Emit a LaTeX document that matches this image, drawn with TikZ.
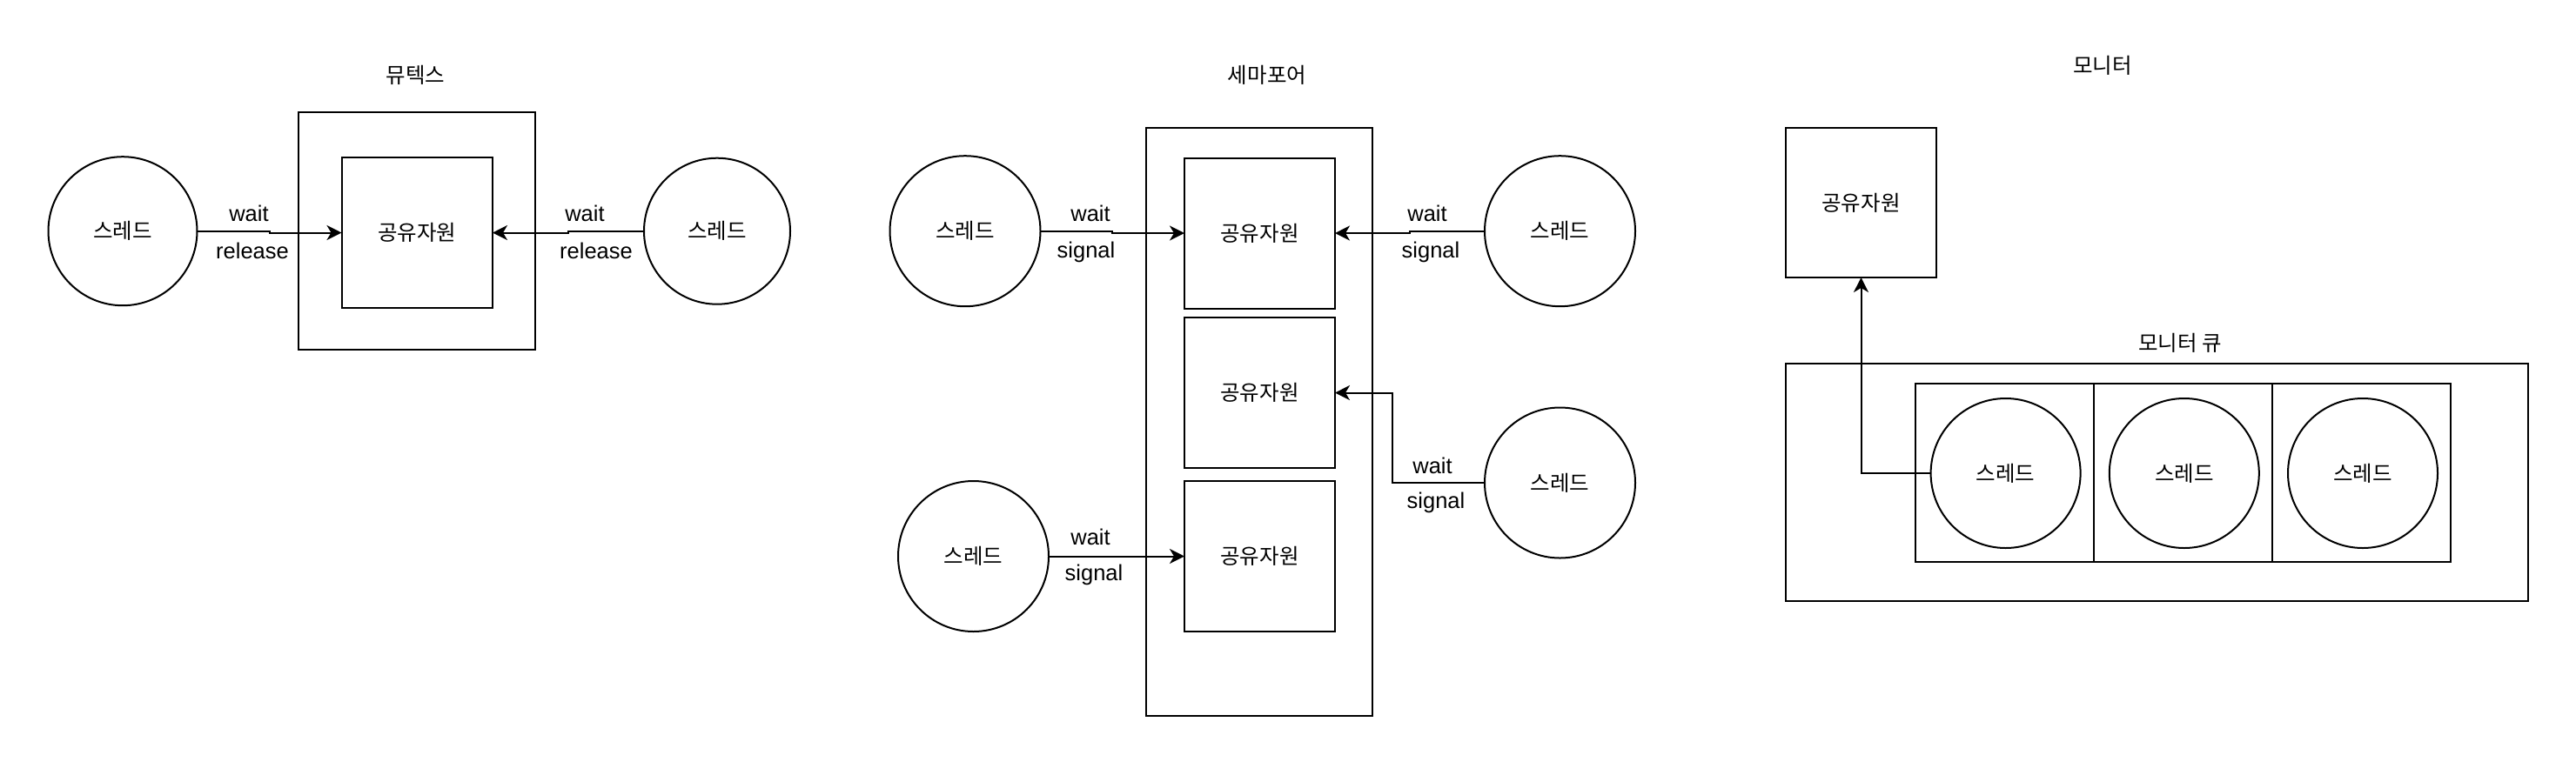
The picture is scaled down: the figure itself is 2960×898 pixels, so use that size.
\documentclass[tikz,border=0pt]{standalone}
\usepackage{fontspec}
\setmainfont{Liberation Sans}
\newfontfamily\kr{Noto Sans CJK KR}
\usetikzlibrary{arrows.meta,calc}
\begin{document}
\begin{tikzpicture}[x=1pt,y=-1pt,
  lw/.style={line width=2pt},
  rbox/.style args={#1x#2}{draw, lw, inner sep=0pt, outer sep=0pt, minimum width=#1pt, minimum height=#2pt, font=\kr\fontsize{24.5}{28}\selectfont},
  thr/.style={draw, lw, circle, inner sep=0pt, outer sep=0pt, minimum size=#1pt, font=\kr\fontsize{24.5}{28}\selectfont},
  thr/.default=172,
  ttl/.style={inner sep=0pt, font=\kr\fontsize{24.5}{28}\selectfont},
  lbl/.style={inner sep=0pt, anchor=base, font=\fontsize{25.5}{30}\selectfont},
  arr/.style={lw, -{Stealth[length=17pt, width=17pt, inset=5pt]}}
]
\useasboundingbox (0,0) rectangle (2960,898);

% ---------------- Mutex ----------------
\node[ttl] (tMutex) at (477.6,86.7) {뮤텍스};
\node[rbox=272x273] (mOuter) at (479,265.5) {};
\node[rbox=173.5x173] (mRes) at (479.25,267.5) {공유자원};
\node[thr=171] (mT1) at (141,265.7) {스레드};
\node[thr=168] (mT2) at (824,265.7) {스레드};
\draw[arr] (mT1.east) -| ($(mT1.east)!.5!(mRes.west)$) |- (mRes.west);
\draw[arr] (mT2.west) -| ($(mT2.west)!.5!(mRes.east)$) |- (mRes.east);
\node[lbl] (mW1) at (286,254) {wait};
\node[lbl] (mRl1) at (290,297) {release};
\node[lbl] (mW2) at (672,254) {wait};
\node[lbl] (mRl2) at (685,297) {release};

% ---------------- Semaphore ----------------
\node[ttl] (tSem) at (1456,86) {세마포어};
\node[rbox=260x676] (sOuter) at (1447,485) {};
\node[rbox=173x173] (sR1) at (1447.5,268) {공유자원};
\node[rbox=173x173] (sR2) at (1447.5,451.5) {공유자원};
\node[rbox=173x173] (sR3) at (1447.5,639.5) {공유자원};
\node[thr=173] (sT1) at (1109,265.7) {스레드};
\node[thr=173] (sT2) at (1792.5,265.7) {스레드};
\node[thr=173] (sT3) at (1792.5,555) {스레드};
\node[thr=173] (sT4) at (1118.5,639.5) {스레드};
\coordinate (sJ) at (1600,0);
\draw[arr] (sT1.east) -| ($(sT1.east)!.5!(sR1.west)$) |- (sR1.west);
\draw[arr] (sT2.west) -| ($(sT2.west)!.5!(sR1.east)$) |- (sR1.east);
\draw[arr] (sT3.west) -| (sJ |- sR2.east) -- (sR2.east);
\draw[arr] (sT4.east) -- (sR3.west);
\node[lbl] (sW1) at (1253,254) {wait};
\node[lbl] (sS1) at (1248,296) {signal};
\node[lbl] (sW2) at (1640,254) {wait};
\node[lbl] (sS2) at (1644,296) {signal};
\node[lbl] (sW3) at (1646,544) {wait};
\node[lbl] (sS3) at (1650,584) {signal};
\node[lbl] (sW4) at (1253,626.5) {wait};
\node[lbl] (sS4) at (1257,667) {signal};

% ---------------- Monitor ----------------
\node[ttl] (tMon) at (2416,75) {모니터};
\node[rbox=173x172] (monRes) at (2138.5,233) {공유자원};
\node[ttl] (tQueue) at (2505,394) {모니터 큐};
\node[rbox=853x273] (qOuter) at (2478.5,554) {};
\node[rbox=205x205] (qC1) at (2303.5,543) {};
\node[rbox=205x205] (qC2) at (2508.3,543) {};
\node[rbox=205x205] (qC3) at (2713,543) {};
\node[thr=172] (qT1) at (2304.6,544) {스레드};
\node[thr=172] (qT2) at (2509.8,544) {스레드};
\node[thr=172] (qT3) at (2715,544) {스레드};
\draw[arr] (qT1.west) -| (monRes.south);
\end{tikzpicture}
\end{document}
